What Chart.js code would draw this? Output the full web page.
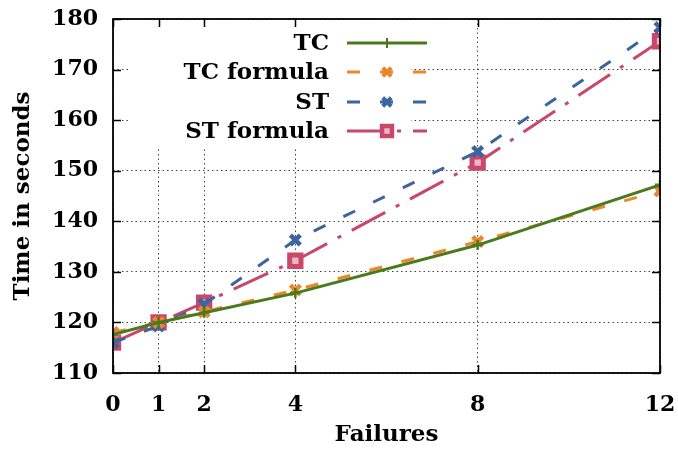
<!DOCTYPE html>
<html>
<head>
<meta charset="utf-8">
<script src="https://cdn.jsdelivr.net/npm/chart.js@4.4.1/dist/chart.umd.min.js"></script>
<style>
html,body{margin:0;padding:0;background:#fff;}
#wrap{width:678px;height:451px;position:relative;}
</style>
</head>
<body>
<div id="wrap"><canvas id="c" width="678" height="451"></canvas></div>
<script>
const failures = [0, 1, 2, 4, 8, 12];
const tcValues = [117.6, 120.0, 121.9, 125.8, 135.3, 147.2];
const tcFormulaValues = [118.0, 120.0, 122.1, 126.4, 136.0, 146.0];
const stValues = [116.0, 119.3, 123.6, 136.3, 153.8, 178.3];
const stFormulaValues = [116.0, 120.0, 123.9, 132.2, 151.6, 175.6];
const xTicks = [0, 1, 2, 4, 8, 12];
const yTicks = [110, 120, 130, 140, 150, 160, 170, 180];
const seriesNames = ['TC', 'TC formula', 'ST', 'ST formula'];

const GREEN = '#4a7a1d', ORANGE = '#ea862b', BLUE = '#3a659f', PINK = '#c8476b';
const FONT = '"DejaVu Serif", serif';

function pts(vals){ return failures.map((x,i)=>({x:x, y:vals[i]})); }

const datasets = [
  {label: seriesNames[0], data: pts(tcValues), borderColor: GREEN, backgroundColor: GREEN,
   borderWidth: 3, pointStyle: 'cross', pointRadius: 5, pointBorderWidth: 2.5, borderDash: []},
  {label: seriesNames[1], data: pts(tcFormulaValues), borderColor: ORANGE, backgroundColor: ORANGE,
   borderWidth: 3, pointStyle: 'crossRot', pointRadius: 7, pointBorderWidth: 4.5, borderDash: [13, 20]},
  {label: seriesNames[2], data: pts(stValues), borderColor: BLUE, backgroundColor: BLUE,
   borderWidth: 3, pointStyle: 'crossRot', pointRadius: 7, pointBorderWidth: 4.5, borderDash: [13, 20]},
  {label: seriesNames[3], data: pts(stFormulaValues), borderColor: PINK, backgroundColor: '#e9b9c7',
   borderWidth: 3, pointStyle: 'rect', pointRadius: 8, pointBorderWidth: 5, borderDash: [38, 12, 4, 12]}
];
datasets.forEach(d=>{ d.tension = 0; d.fill = false; d.pointHoverRadius = d.pointRadius; });

function marker(ctx, style, x, y, r, bw, stroke, fill){
  ctx.save();
  ctx.setLineDash([]);
  ctx.lineWidth = bw;
  ctx.strokeStyle = stroke;
  ctx.fillStyle = fill;
  ctx.beginPath();
  if (style === 'cross') {
    ctx.moveTo(x - r, y); ctx.lineTo(x + r, y);
    ctx.moveTo(x, y - r); ctx.lineTo(x, y + r);
    ctx.stroke();
  } else if (style === 'crossRot') {
    const d = r * Math.SQRT1_2;
    ctx.moveTo(x - d, y - d); ctx.lineTo(x + d, y + d);
    ctx.moveTo(x + d, y - d); ctx.lineTo(x - d, y + d);
    ctx.stroke();
  } else {
    const s = r * Math.SQRT1_2;
    ctx.rect(x - s, y - s, 2 * s, 2 * s);
    ctx.fill(); ctx.stroke();
  }
  ctx.restore();
}

const frame = {
  id: 'frame',
  beforeDatasetsDraw(chart){
    const ctx = chart.ctx;
    ctx.save();
    ctx.fillStyle = '#fff';
    ctx.fillRect(130, 20, 281, 128);
    ctx.restore();
  },
  afterDatasetsDraw(chart){
    const {ctx, chartArea: a, scales} = chart;
    ctx.save();
    ctx.strokeStyle = '#000';
    ctx.lineWidth = 1.5;
    ctx.setLineDash([]);
    ctx.beginPath();
    const L = 8;
    xTicks.forEach(v=>{
      const px = Math.round(scales.x.getPixelForValue(v)) + 0.5;
      ctx.moveTo(px, a.bottom); ctx.lineTo(px, a.bottom - L);
      ctx.moveTo(px, a.top); ctx.lineTo(px, a.top + L);
    });
    yTicks.forEach(v=>{
      const py = Math.round(scales.y.getPixelForValue(v)) + 0.5;
      ctx.moveTo(a.left, py); ctx.lineTo(a.left + L, py);
      ctx.moveTo(a.right, py); ctx.lineTo(a.right - L, py);
    });
    ctx.stroke();
    ctx.lineWidth = 1.8;
    ctx.strokeRect(a.left, a.top, a.right - a.left, a.bottom - a.top);

    // legend
    const rows = [43, 72, 102, 131];
    const textRight = 329, x0 = 347, x1 = 427, xm = 387;
    ctx.font = 'bold 23px ' + FONT;
    ctx.textAlign = 'right';
    ctx.textBaseline = 'middle';
    ctx.fillStyle = '#000';
    chart.data.datasets.forEach((d, i)=>{
      const y = rows[i];
      ctx.fillText(d.label, textRight, y + 1);
      ctx.save();
      ctx.strokeStyle = d.borderColor;
      ctx.lineWidth = d.borderWidth;
      ctx.setLineDash(d.borderDash);
      ctx.beginPath(); ctx.moveTo(x0, y); ctx.lineTo(x1, y); ctx.stroke();
      ctx.restore();
      const r = d.pointStyle === 'rect' ? 7 : (d.pointStyle === 'cross' ? 5 : 6);
      marker(ctx, d.pointStyle, xm, y, r, d.pointBorderWidth - 0.5, d.borderColor, d.backgroundColor);
    });
    ctx.restore();
  }
};

function zeroPad(s){ s.paddingLeft = 0; s.paddingRight = 0; s.paddingTop = 0; s.paddingBottom = 0; }

new Chart(document.getElementById('c'), {
  type: 'line',
  data: {datasets},
  options: {
    responsive: false,
    animation: false,
    events: [],
    layout: {padding: {left: 0, right: 18, top: 19, bottom: 0}},
    plugins: {legend: {display: false}, tooltip: {enabled: false}},
    scales: {
      x: {
        type: 'linear', min: 0, max: 12,
        afterBuildTicks(s){ s.ticks = xTicks.map(v=>({value: v})); },
        afterFit(s){ s.height = 78; zeroPad(s); },
        grid: {color: '#444', lineWidth: 1, drawTicks: false},
        border: {display: false, dash: [1.5, 3]},
        ticks: {color: '#000', padding: 19, font: {family: FONT, size: 22, weight: 'bold'}, maxRotation: 0},
        title: {display: true, text: 'Failures', color: '#000', padding: {top: 0, bottom: 2}, font: {family: FONT, size: 23, weight: 'bold'}}
      },
      y: {
        type: 'linear', min: 110, max: 180,
        afterBuildTicks(s){ s.ticks = yTicks.map(v=>({value: v})); },
        afterFit(s){ s.width = 113; zeroPad(s); },
        grid: {color: '#444', lineWidth: 1, drawTicks: false},
        border: {display: false, dash: [1.5, 3]},
        ticks: {color: '#000', padding: 15, font: {family: FONT, size: 22, weight: 'bold'}},
        title: {display: true, text: 'Time in seconds', color: '#000', padding: {top: 9, bottom: 0}, font: {family: FONT, size: 23, weight: 'bold'}}
      }
    }
  },
  plugins: [frame]
});
</script>
</body>
</html>
